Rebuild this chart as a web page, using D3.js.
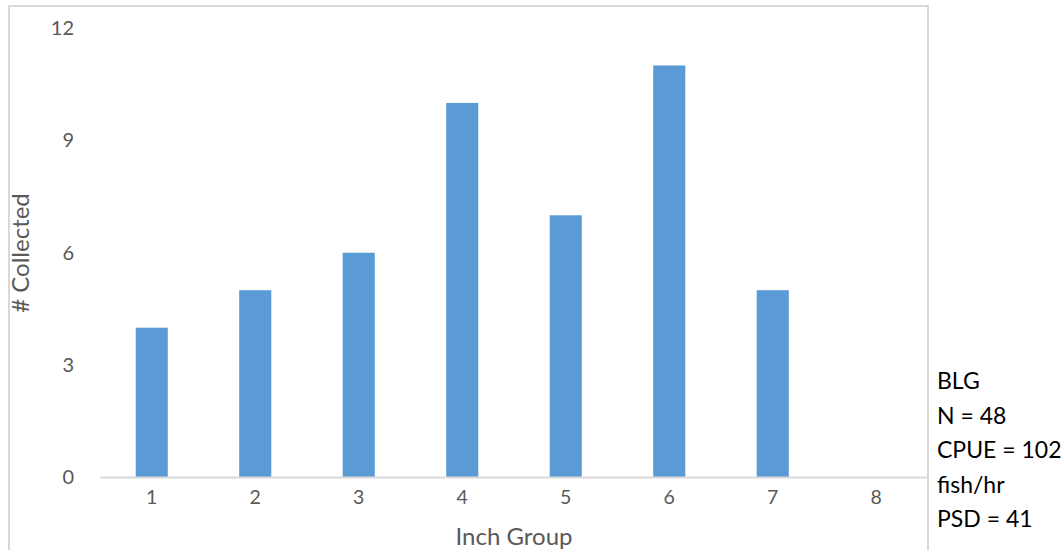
<!DOCTYPE html>
<html><head><meta charset="utf-8">
<script src="https://cdn.jsdelivr.net/npm/d3@7"></script>
<style>body{margin:0;background:#fff}svg{display:block}text{font-family:Lato,"Open Sans",sans-serif}</style>
</head><body>
<svg id="c" width="1063" height="550"></svg>
<script>
const categories = ["1","2","3","4","5","6","7","8"];
const counts = [4,5,6,10,7,11,5,0];
const yTicks = [0,3,6,9,12];
const notes = ["BLG","N = 48","CPUE = 102","fish/hr","PSD = 41"];

const svg = d3.select("#c");
const m = {left:100, right:928, top:28, bottom:477.5};

// chart area border
svg.append("rect").attr("x",9).attr("y",6).attr("width",919).attr("height",600)
  .attr("fill","none").attr("stroke","#d9d9d9").attr("stroke-width",2);

const x = d3.scaleBand().domain(categories).range([m.left,m.right]).paddingInner(0.69).paddingOuter(0.345);
const y = d3.scaleLinear().domain([0,12]).range([m.bottom,m.top]);

svg.selectAll("rect.bar").data(counts).join("rect").attr("class","bar")
  .attr("x",(d,i)=>x(categories[i])).attr("width",x.bandwidth())
  .attr("y",d=>y(d)).attr("height",d=>y(0)-y(d)).attr("fill","#5b9bd5");

// x axis
const xa = svg.append("g").attr("transform",`translate(0,${m.bottom})`)
  .call(d3.axisBottom(x).tickSize(0).tickPadding(13));
xa.select(".domain").attr("stroke","#d9d9d9").attr("stroke-width",2).attr("d",`M${m.left},0H${m.right}`);
xa.selectAll("text").attr("font-size",19.5).attr("fill","#595959").attr("font-family","Lato");

// y axis
const ya = svg.append("g").attr("transform",`translate(${m.left},0)`)
  .call(d3.axisLeft(y).tickValues(yTicks).tickSize(0).tickPadding(26));
ya.select(".domain").remove();
ya.selectAll("text").attr("font-size",20).attr("fill","#595959").attr("font-family","Lato");

svg.append("text").attr("x",514).attr("y",545).attr("text-anchor","middle")
  .attr("font-size",24).attr("fill","#595959").text("Inch Group");
svg.append("text").attr("transform","translate(29,253) rotate(-90)").attr("text-anchor","middle")
  .attr("font-size",24).attr("fill","#595959").text("# Collected");

svg.append("g").selectAll("text").data(notes).join("text")
  .attr("x",937).attr("y",(d,i)=>389+i*34.5).attr("font-size",23).attr("fill","#000").text(d=>d);
</script>
</body></html>
